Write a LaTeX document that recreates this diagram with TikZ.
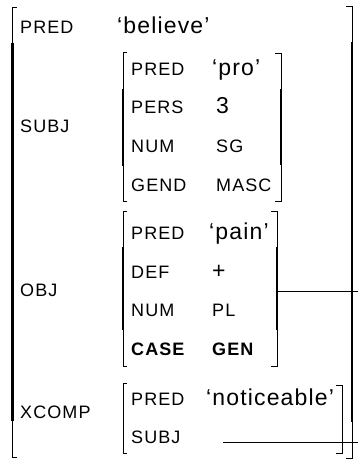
\documentclass[tikz,border=0pt]{standalone}
\usepackage{fontspec}
\setmainfont{Liberation Sans}
\newfontfamily\attrfont[LetterSpace=6]{Liberation Sans}
\newfontfamily\valfont[LetterSpace=5]{Liberation Sans}
\newcommand\fsLeft[3]{% x, top, bottom
  \draw[thinline] (#1+4,#2) -- (#1,#2) -- (#1,#3) -- (#1+4,#3);
  \pgfmathsetmacro\fsA{#2+36}\pgfmathsetmacro\fsB{#3-36}
  \ifdim\fsA pt<\fsB pt \draw[thickline] (#1,\fsA) -- (#1,\fsB);\fi}
\newcommand\fsRight[3]{% x, top, bottom
  \draw[thinline] (#1-6,#2) -- (#1,#2) -- (#1,#3) -- (#1-6,#3);
  \pgfmathsetmacro\fsA{#2+36}\pgfmathsetmacro\fsB{#3-36}
  \ifdim\fsA pt<\fsB pt \draw[thickline] (#1,\fsA) -- (#1,\fsB);\fi}
\begin{document}
\begin{tikzpicture}[x=1pt,y=-1pt,
  attr/.style={anchor=base west,inner sep=0pt,font=\attrfont\fontsize{18}{21}\selectfont},
  battr/.style={anchor=base west,inner sep=0pt,font=\attrfont\bfseries\fontsize{18}{21}\selectfont},
  val/.style={anchor=base west,inner sep=0pt,font=\valfont\fontsize{23}{26}\selectfont},
  thinline/.style={line width=0.8pt,line cap=butt},
  thickline/.style={line width=2.2pt},
  link/.style={line width=0.7pt}]
\useasboundingbox (0,0) rectangle (358,460);

% outer f-structure
\fsLeft{12.5}{7}{457}
\fsRight{352}{6}{458}
\node[attr] (pred) at (20,34) {PRED};
\node[val]  (predv) at (117,34) {‘believe’};
\node[attr] (subj) at (20,132) {SUBJ};
\node[attr] (obj) at (20,296) {OBJ};
\node[attr] (xcomp) at (20,418) {XCOMP};

% SUBJ
\fsLeft{123}{52.5}{201.5}
\fsRight{281}{53}{201}
\node[attr] (s1) at (131,75) {PRED};
\node[val]  (s1v) at (212,75) {‘pro’};
\node[attr] (s2) at (131,113.7) {PERS};
\node[val]  (s2v) at (216,113.7) {3};
\node[attr] (s3) at (131,152.4) {NUM};
\node[attr] (s3v) at (216,152.4) {SG};
\node[attr] (s4) at (131,191.1) {GEND};
\node[attr] (s4v) at (216,191.1) {MASC};

% OBJ
\fsLeft{123}{211}{366}
\fsRight{277}{211}{366}
\node[attr] (o1) at (131,239) {PRED};
\node[val]  (o1v) at (209,239) {‘pain’};
\node[attr] (o2) at (131,278) {DEF};
\node[val]  (o2v) at (212,278) {+};
\node[attr] (o3) at (131,316.5) {NUM};
\node[attr] (o3v) at (212,316.5) {PL};
\node[battr] (o4) at (131,355) {CASE};
\node[battr] (o4v) at (212,355) {GEN};

% XCOMP
\fsLeft{123}{383}{453}
\fsRight{342}{385}{453}
\node[attr] (x1) at (131,405) {PRED};
\node[val]  (x1v) at (206,405) {‘noticeable’};
\node[attr] (x2) at (131,443.5) {SUBJ};

% connectors
\coordinate (objR) at (277,291);
\coordinate (objE) at (358,291);
\coordinate (xsubjS) at (223,442);
\coordinate (xsubjE) at (358,442);
\draw[link] (objR) -- (objE);
\draw[link] (xsubjS) -- (xsubjE);
\end{tikzpicture}
\end{document}
